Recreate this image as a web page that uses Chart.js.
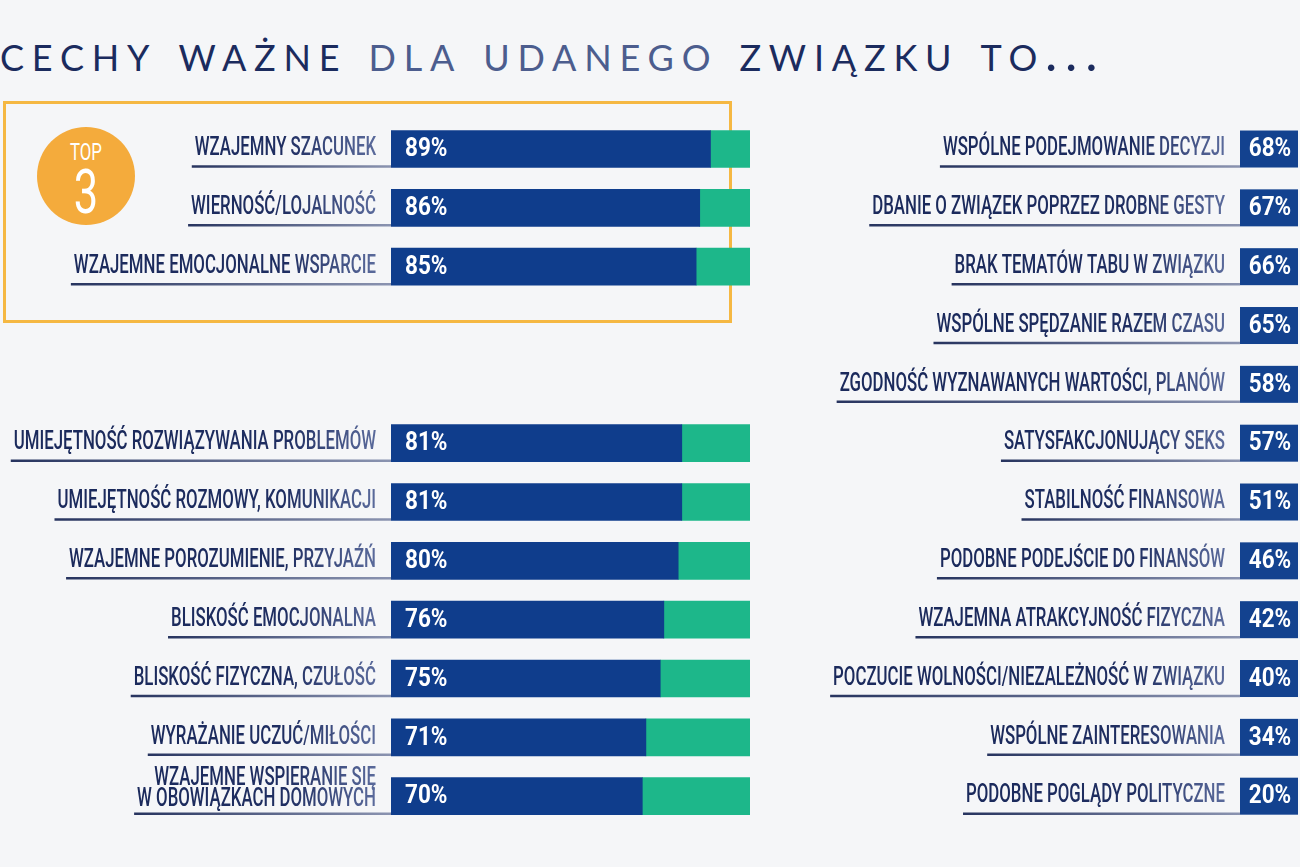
<!DOCTYPE html>
<html lang="pl">
<head>
<meta charset="utf-8">
<script src="https://cdn.jsdelivr.net/npm/chart.js@4"></script>
<style>
  html, body { margin: 0; padding: 0; background: #f5f6f8; }
  #page { position: relative; width: 1300px; height: 867px; overflow: hidden; background: #f5f6f8; }
  #title {
    position: absolute; left: 0; top: 20px; white-space: nowrap;
    font-family: Lato, "Open Sans", sans-serif; font-weight: 400; font-size: 52px;
    font-variant: small-caps; letter-spacing: 7.8px; color: #1b2b5e;
  }
  #title .light { color: #4c5d8e; }
  #topBox { position: absolute; left: 3px; top: 101px; width: 723px; height: 216px; border: 3px solid #f5b843; }
  #badge {
    position: absolute; left: 37px; top: 127px; width: 98px; height: 98px; border-radius: 50%;
    background: #f4ab3c; color: #fff; text-align: center; font-family: Roboto, sans-serif;
  }
  #badge .t { position: absolute; left: 0; right: 0; top: 12px; font-size: 24px; line-height: 26px; transform: scaleX(0.7); }
  #badge .n { position: absolute; left: 0; right: 0; top: 36px; font-size: 62px; line-height: 58px; font-weight: 400; transform: scaleX(0.7); }
  #leftWrap { position: absolute; left: 0; top: 0; width: 770px; height: 867px; }
  #rightWrap { position: absolute; left: 800px; top: 0; width: 500px; height: 867px; }
</style>
</head>
<body>
<div id="page">
  <div id="title">cechy ważne <span class="light">dla udanego</span> związku to...</div>
  <div id="topBox"></div>
  <div id="badge"><div class="t">TOP</div><div class="n">3</div></div>
  <div id="leftWrap"><canvas id="leftChart"></canvas></div>
  <div id="rightWrap"><canvas id="rightChart"></canvas></div>
</div>
<script>
// left column (two empty slots keep rows aligned with the right column)
const leftLabels = [
  'WZAJEMNY SZACUNEK',
  'WIERNOŚĆ/LOJALNOŚĆ',
  'WZAJEMNE EMOCJONALNE WSPARCIE',
  '',
  '',
  'UMIEJĘTNOŚĆ ROZWIĄZYWANIA PROBLEMÓW',
  'UMIEJĘTNOŚĆ ROZMOWY, KOMUNIKACJI',
  'WZAJEMNE POROZUMIENIE, PRZYJAŹŃ',
  'BLISKOŚĆ EMOCJONALNA',
  'BLISKOŚĆ FIZYCZNA, CZUŁOŚĆ',
  'WYRAŻANIE UCZUĆ/MIŁOŚCI',
  ['WZAJEMNE WSPIERANIE SIĘ', 'W OBOWIĄZKACH DOMOWYCH']
];
const leftValues = [89, 86, 85, null, null, 81, 81, 80, 76, 75, 71, 70];
const leftRest   = [11, 14, 15, null, null, 19, 19, 20, 24, 25, 29, 30];

// right column
const rightLabels = [
  'WSPÓLNE PODEJMOWANIE DECYZJI',
  'DBANIE O ZWIĄZEK POPRZEZ DROBNE GESTY',
  'BRAK TEMATÓW TABU W ZWIĄZKU',
  'WSPÓLNE SPĘDZANIE RAZEM CZASU',
  'ZGODNOŚĆ WYZNAWANYCH WARTOŚCI, PLANÓW',
  'SATYSFAKCJONUJĄCY SEKS',
  'STABILNOŚĆ FINANSOWA',
  'PODOBNE PODEJŚCIE DO FINANSÓW',
  'WZAJEMNA ATRAKCYJNOŚĆ FIZYCZNA',
  'POCZUCIE WOLNOŚCI/NIEZALEŻNOŚĆ W ZWIĄZKU',
  'WSPÓLNE ZAINTERESOWANIA',
  'PODOBNE POGLĄDY POLITYCZNE'
];
const rightValues = [68, 67, 66, 65, 58, 57, 51, 46, 42, 40, 34, 20];

const BAR_H = 37;
const LABEL_PAD = 15;
const labelFont = '500 25px Roboto, sans-serif';
const labelSqueeze = 0.672;   // condensed look
const valueFont = 'bold 25px Roboto, sans-serif';
const valueSqueeze = 0.9;

// category labels (condensed) + underline running to the bar / box
const labelPlugin = {
  id: 'condensedLabels',
  afterDraw(chart) {
    const y = chart.scales.y, ctx = chart.ctx;
    const xr = chart.chartArea.left - LABEL_PAD;
    ctx.save();
    ctx.font = labelFont;
    chart.data.labels.forEach((lab, i) => {
      const lines = Array.isArray(lab) ? lab : [lab];
      const w = Math.max(...lines.map(l => ctx.measureText(l).width)) * labelSqueeze;
      if (!w) return;
      const cy = y.getPixelForValue(i);
      // underline
      const x0 = xr - w - 3, x1 = chart.chartArea.left;
      const yy = cy + BAR_H / 2 - 1;
      const ug = ctx.createLinearGradient(x0, 0, x1, 0);
      ug.addColorStop(0, '#27345f');
      ug.addColorStop(1, '#8a93b0');
      ctx.strokeStyle = ug;
      ctx.lineWidth = 2.5;
      ctx.beginPath();
      ctx.moveTo(x0, yy);
      ctx.lineTo(x1, yy);
      ctx.stroke();
      // text
      ctx.save();
      ctx.translate(xr, cy);
      ctx.scale(labelSqueeze, 1);
      const tg = ctx.createLinearGradient(-340, 0, 0, 0);
      tg.addColorStop(0, '#1b2a5c');
      tg.addColorStop(0.6, '#1f2e61');
      tg.addColorStop(1, '#5a6a9b');
      ctx.fillStyle = tg;
      ctx.textAlign = 'right';
      ctx.textBaseline = 'middle';
      const lh = 21;
      lines.forEach((l, k) => {
        const off = lines.length === 1 ? 0 : (k - (lines.length - 1)) * lh + 4;
        ctx.fillText(l, 0, off);
      });
      ctx.restore();
    });
    ctx.restore();
  }
};

function drawValue(ctx, text, x, y, align) {
  ctx.save();
  ctx.translate(x, y);
  ctx.scale(valueSqueeze, 1);
  ctx.font = valueFont;
  ctx.fillStyle = '#ffffff';
  ctx.textAlign = align;
  ctx.textBaseline = 'middle';
  ctx.fillText(text, 0, 1);
  ctx.restore();
}

// percentage written inside the blue bars
const barTextPlugin = {
  id: 'barText',
  afterDatasetsDraw(chart) {
    const meta = chart.getDatasetMeta(0);
    meta.data.forEach((el, i) => {
      const v = chart.data.datasets[0].data[i];
      if (v == null) return;
      drawValue(chart.ctx, v + '%', el.base + 14, el.y, 'left');
    });
  }
};

// value boxes of the right column
const boxPlugin = {
  id: 'valueBox',
  afterDatasetsDraw(chart) {
    const y = chart.scales.y, ctx = chart.ctx, a = chart.chartArea;
    chart.data.datasets[0].data.forEach((v, i) => {
      const cy = y.getPixelForValue(i);
      ctx.fillStyle = '#13428f';
      ctx.fillRect(a.left, cy - BAR_H / 2, a.right - a.left, BAR_H);
      drawValue(ctx, v + '%', (a.left + a.right) / 2 + 1, cy, 'center');
    });
  }
};

Chart.defaults.animation = false;
Chart.defaults.plugins.legend.display = false;
Chart.defaults.plugins.tooltip.enabled = false;

function yAxis(width, stacked) {
  return {
    stacked: stacked,
    grid: { display: false, drawTicks: false },
    border: { display: false },
    ticks: { display: false },
    afterFit(scale) { scale.width = width; }
  };
}

new Chart(document.getElementById('leftChart'), {
  type: 'bar',
  data: {
    labels: leftLabels,
    datasets: [
      { label: 'Wskazania', data: leftValues, backgroundColor: '#0f3d8c', barThickness: BAR_H },
      { label: 'Pozostali', data: leftRest, backgroundColor: '#1db78a', barThickness: BAR_H }
    ]
  },
  options: {
    indexAxis: 'y',
    responsive: true,
    maintainAspectRatio: false,
    layout: { padding: { top: 119.6, bottom: 41.4, left: 0, right: 20 } },
    scales: {
      x: { stacked: true, min: 0, max: 100, display: false },
      y: yAxis(391, true)
    }
  },
  plugins: [labelPlugin, barTextPlugin]
});

new Chart(document.getElementById('rightChart'), {
  type: 'bar',
  data: {
    labels: rightLabels,
    datasets: [
      { label: 'Wskazania', data: rightValues, backgroundColor: 'rgba(0,0,0,0)', barThickness: BAR_H }
    ]
  },
  options: {
    indexAxis: 'y',
    responsive: true,
    maintainAspectRatio: false,
    layout: { padding: { top: 119.6, bottom: 41.4, left: 0, right: 2 } },
    scales: {
      x: { min: 0, max: 100, display: false },
      y: yAxis(440, false)
    }
  },
  plugins: [labelPlugin, boxPlugin]
});
</script>
</body>
</html>
